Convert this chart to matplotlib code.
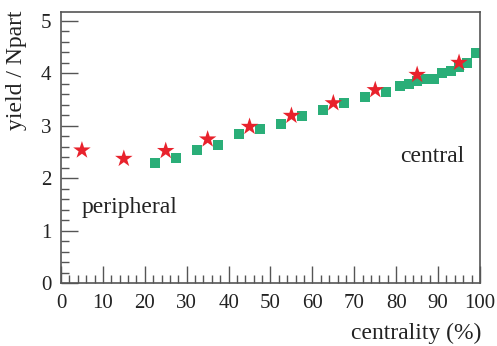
import numpy as np
import matplotlib.pyplot as plt
from matplotlib.ticker import MultipleLocator

# red stars
star_x = [5, 15, 25, 35, 45, 55, 65, 75, 85, 95]
star_y = [2.53, 2.37, 2.52, 2.74, 2.98, 3.19, 3.43, 3.68, 3.97, 4.20]

# green squares
sq_x = [22.5, 27.5, 32.5, 37.5, 42.5, 47.5, 52.5, 57.5, 62.5, 67.5, 72.5, 77.5,
        81, 83, 85, 87, 89, 91, 93, 95, 97, 99]
sq_y = [2.29, 2.39, 2.54, 2.64, 2.84, 2.94, 3.04, 3.19, 3.30, 3.44, 3.55, 3.64,
        3.75, 3.80, 3.85, 3.89, 3.89, 4.00, 4.04, 4.11, 4.20, 4.39]

plt.rcParams['font.family'] = ['Liberation Serif', 'DejaVu Serif']

fig = plt.figure(figsize=(4.97, 3.46), dpi=100)
ax = fig.add_axes([0.1227, 0.182, 0.8431, 0.784])

ax.scatter(sq_x, sq_y, marker='s', s=52, color='#2aae78', edgecolors='none', zorder=2)
ax.scatter(star_x, star_y, marker='*', s=175, color='#e8222c', edgecolors='none', zorder=3)

ax.set_xlim(0, 100)
ax.set_ylim(0, 5.17)
ax.xaxis.set_major_locator(MultipleLocator(10))
ax.xaxis.set_minor_locator(MultipleLocator(2))
ax.yaxis.set_major_locator(MultipleLocator(1))
ax.yaxis.set_minor_locator(MultipleLocator(0.2))

ax.tick_params(which='both', direction='in', top=False, right=False,
               colors='#555555', labelcolor='#222222', labelsize=15, width=1)
ax.tick_params(which='major', length=12)
ax.tick_params(which='minor', length=6)
ax.tick_params(axis='x', which='both', pad=8)
ax.tick_params(axis='y', which='both', pad=7)
for s in ax.spines.values():
    s.set_color('#555555')
    s.set_linewidth(1.2)

fig.text(481 / 497, 1 - 339 / 346, 'centrality (%)', fontsize=17,
         color='#222222', ha='right', va='baseline')
fig.text(17 / 497, 1 - 10 / 346, 'yield / Npart', fontsize=17,
         color='#222222', ha='center', va='top', rotation=90)

ax.text(5.0, 1.33, 'peripheral', fontsize=17, color='#222222', va='baseline')
ax.text(80.9, 2.30, 'central', fontsize=17, color='#222222', va='baseline')

fig.savefig('out.png', dpi=100)
